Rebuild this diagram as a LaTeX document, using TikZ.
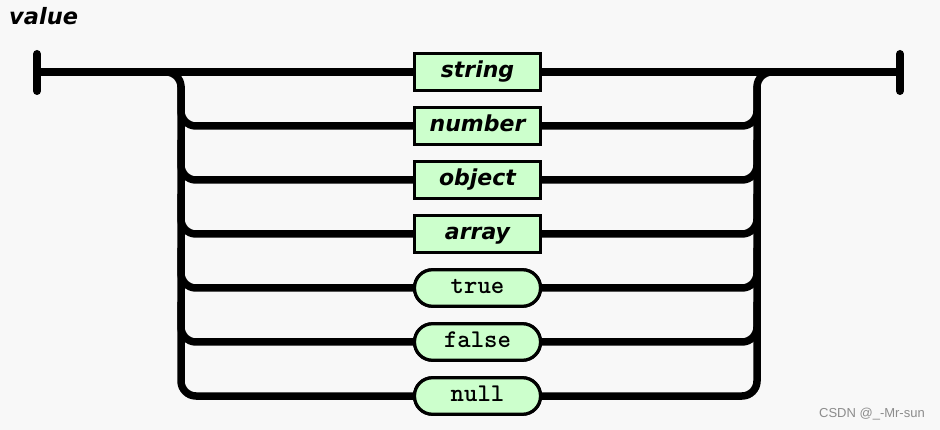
\documentclass[tikz,border=0pt]{standalone}
\usepackage{fontspec}
\newfontfamily\railsans{DejaVu Sans}
\newfontfamily\railmono{lmmonolt10-bold}[Extension=.otf]
\newfontfamily\wmfont{Liberation Sans}
\definecolor{bg}{HTML}{F8F8F8}
\definecolor{boxgreen}{HTML}{CCFFCC}
\definecolor{wmgray}{HTML}{8C8C8C}
\begin{document}
\begin{tikzpicture}[x=1pt,y=-1pt,
  rail/.style={line width=7.5pt, draw=black},
  railcurve/.style={rail, rounded corners=15pt},
  endbar/.style={line width=8pt, line cap=round},
  nonterm/.style={draw=black, line width=3.2pt, fill=boxgreen, minimum width=126pt, minimum height=36.5pt, inner sep=0pt,
    text height=16pt, text depth=5pt,
    font=\railsans\bfseries\itshape\fontsize{22}{26}\selectfont},
  term/.style={nonterm, rounded corners=18pt, font=\railmono\fontsize{25.5}{28}\selectfont},
  titlestyle/.style={font=\railsans\bfseries\itshape\fontsize{22.5}{26}\selectfont, inner sep=0pt, anchor=base west},
  wmstyle/.style={font=\wmfont\fontsize{13}{16}\selectfont, text=wmgray, inner sep=0pt, anchor=east}
]
\useasboundingbox (0,0) rectangle (940,430);
\fill[bg] (0,0) rectangle (940,430);

\node[titlestyle] (title) at (9,25) {value};

% boxes
\node[nonterm] (s) at (477.5,72) {string};
\node[nonterm] (n) at (477.5,126) {number};
\node[nonterm] (o) at (477.5,180) {object};
\node[nonterm] (a) at (477.5,234) {array};
\node[term] (t) at (477.5,288) {true};
\node[term] (f) at (477.5,342) {false};
\node[term] (nl) at (477.5,396) {null};

% end points
\coordinate (startbar) at (37,72);
\coordinate (endbar) at (900,72);
\coordinate (ltop) at (181,72);
\coordinate (lbot) at (181,396);
\coordinate (rtop) at (757,72);
\coordinate (rbot) at (757,396);

% bars
\draw[endbar] (37,54) -- (37,91);
\draw[endbar] (900,54) -- (900,91);

% main line
\draw[rail] (startbar) -- (s.west);
\draw[rail] (s.east) -- (endbar);

% left spine
\draw[railcurve] (150,72) -- (ltop) -- (lbot) -- (nl.west);
\foreach \b/\y in {n/126,o/180,a/234,t/288,f/342}{
  \draw[railcurve] (181,\y-40) -- (181,\y) -- (\b.west);
}
% right spine
\draw[railcurve] (nl.east) -- (rbot) -- (rtop) -- (790,72);
\foreach \b/\y in {n/126,o/180,a/234,t/288,f/342}{
  \draw[railcurve] (\b.east) -- (757,\y) -- (757,\y-40);
}

% redraw boxes on top
\node[nonterm] at (s) {string};
\node[nonterm] at (n) {number};
\node[nonterm] at (o) {object};
\node[nonterm] at (a) {array};
\node[term] at (t) {true};
\node[term] at (f) {false};
\node[term] at (nl) {null};

\node[wmstyle] (wm) at (925,414) {CSDN @\_-Mr-sun};
\end{tikzpicture}
\end{document}
